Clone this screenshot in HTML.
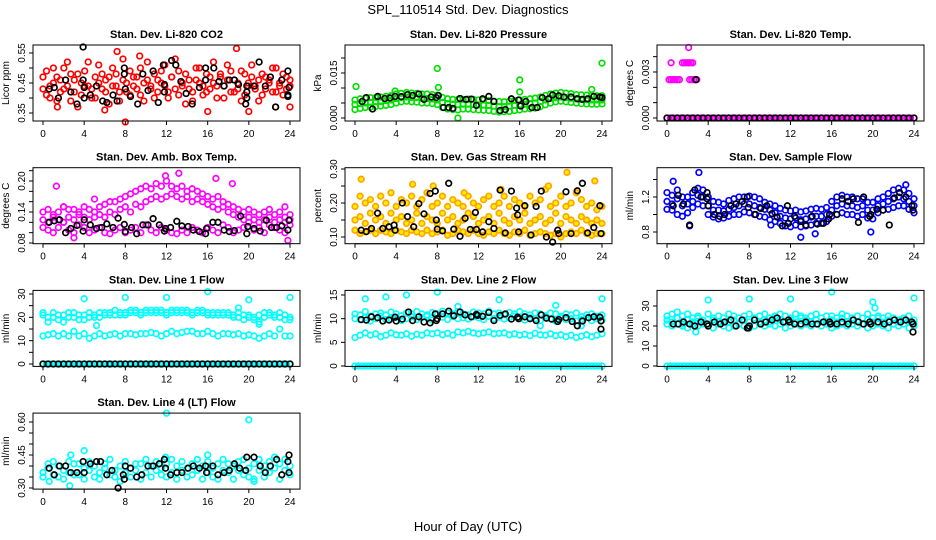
<!DOCTYPE html>
<html><head><meta charset="utf-8"><style>
html,body{margin:0;padding:0;background:#fff}
svg{display:block;font-family:"Liberation Sans",Arial,sans-serif}
</style></head><body>
<svg id="chart" width="936" height="540" viewBox="0 0 936 540">
<text x="468" y="14" text-anchor="middle" font-size="13">SPL_110514  Std. Dev. Diagnostics</text>
<text x="468" y="531" text-anchor="middle" font-size="13">Hour of Day (UTC)</text>
</svg>
<script>
// ---- data (hours / values) ----
const xTicks=[0,4,8,12,16,20,24];
const co2A=[0.47,0.41,0.44,0.50,0.39,0.46,0.43,0.52,0.48,0.42,0.37,0.45,0.49,0.44,0.40,0.47,0.51,0.43,0.46,0.38,0.44,0.48,0.42,0.53,0.45,0.41,0.47,0.43,0.50,0.39,0.46,0.44,0.48,0.42,0.45,0.51,0.40,0.47,0.43,0.49,0.44,0.38,0.46,0.42,0.50,0.45,0.41,0.48,0.43,0.52,0.44,0.47,0.40,0.46,0.49,0.42,0.45,0.39,0.48,0.44,0.51,0.43,0.46,0.41,0.47,0.45,0.42,0.50,0.44,0.48,0.43,0.46];
const co2B=[0.43,0.49,0.40,0.45,0.47,0.42,0.50,0.44,0.39,0.46,0.48,0.41,0.44,0.52,0.43,0.40,0.45,0.48,0.42,0.47,0.50,0.44,0.39,0.46,0.42,0.49,0.44,0.47,0.41,0.45,0.52,0.43,0.40,0.46,0.49,0.44,0.42,0.47,0.53,0.41,0.45,0.48,0.43,0.39,0.46,0.50,0.44,0.42,0.47,0.45,0.40,0.48,0.44,0.51,0.42,0.46,0.43,0.49,0.41,0.45,0.47,0.44,0.39,0.48,0.43,0.46,0.50,0.42,0.45,0.41,0.47,0.44];
const co2OutH=[1.4,6,7.2,8,9.4,18.8,16,20,22.6,24];
const co2OutV=[0.37,0.36,0.555,0.32,0.54,0.565,0.355,0.355,0.37,0.37];
const co2BlkH=[0.6,1.1,1.5,2.2,2.7,3.3,3.9,3.9,4,4,4.6,5.2,5.8,6.2,6.8,7.2,7.9,7.9,8,8.5,9.2,9.7,10.2,10.7,11.2,11.7,11.8,11.8,12.5,12.9,13.4,13.9,14.5,15.2,15.8,15.8,16.6,17.1,17.6,18.1,18.6,19.0,19.7,19.8,19.8,19.8,20.5,21.0,21.6,22.1,22.6,23.2,23.8,23.9,23.8,23.8];
const co2BlkV=[0.43,0.435,0.40,0.46,0.42,0.38,0.57,0.46,0.435,0.40,0.41,0.44,0.39,0.385,0.41,0.39,0.50,0.48,0.43,0.405,0.38,0.48,0.425,0.49,0.385,0.51,0.445,0.42,0.525,0.51,0.455,0.415,0.38,0.435,0.50,0.46,0.50,0.455,0.44,0.46,0.46,0.445,0.38,0.42,0.40,0.44,0.44,0.52,0.44,0.47,0.37,0.46,0.49,0.435,0.41,0.405];

const presMid=[0.0045,0.0048,0.005,0.0052,0.0054,0.0055,0.0058,0.006,0.0065,0.0068,0.007,0.0068,0.0068,0.0066,0.0065,0.0063,0.006,0.0052,0.0048,0.0046,0.0045,0.0046,0.0046,0.0045,0.0044,0.0043,0.0042,0.004,0.0038,0.0038,0.004,0.0042,0.0044,0.0046,0.0048,0.005,0.0055,0.006,0.0065,0.0068,0.007,0.0068,0.0066,0.0064,0.0062,0.0061,0.006,0.006,0.006];
const presLo=[0.0028,0.0032,0.0035,0.0036,0.0038,0.004,0.0042,0.0045,0.005,0.0054,0.0056,0.0054,0.0053,0.005,0.005,0.0048,0.0045,0.0035,0.003,0.0028,0.0027,0.003,0.003,0.0028,0.0027,0.0026,0.0025,0.0022,0.002,0.0021,0.0022,0.0025,0.0027,0.003,0.0031,0.0033,0.0038,0.0044,0.005,0.0054,0.0056,0.0054,0.0052,0.005,0.0048,0.0047,0.0046,0.0046,0.0047];
const presHi=[0.006,0.0064,0.0066,0.0068,0.0068,0.007,0.0072,0.0074,0.008,0.0082,0.0085,0.0083,0.0082,0.008,0.008,0.0078,0.0076,0.0068,0.0064,0.0062,0.0062,0.0062,0.0063,0.0062,0.006,0.006,0.0058,0.0056,0.0055,0.0054,0.0056,0.0058,0.006,0.0062,0.0064,0.0066,0.007,0.0075,0.008,0.0083,0.0085,0.0083,0.0081,0.0078,0.0077,0.0076,0.0075,0.0074,0.0074];
const presOutH=[0.1,8,8.1,16,16,23,24,10,3.9];
const presOutV=[0.0105,0.0165,0.0102,0.0127,0.0087,0.0095,0.0183,0.0,0.009];
const presBlkH=[0.7,1.1,1.7,2.2,2.9,3.4,3.9,4.5,5.1,5.6,6.2,6.7,7.4,7.9,8.1,8.6,9.1,9.5,10.2,10.8,11.3,11.8,12.4,13.0,13.5,14.1,14.6,15.2,15.9,16.1,16.6,17.2,17.7,18.2,18.8,19.2,19.8,20.3,21.0,21.6,22.1,22.6,23.2,23.8,24];
const presBlkV=[0.0055,0.0068,0.0030,0.0072,0.0065,0.0067,0.0072,0.0071,0.0078,0.0075,0.0080,0.0062,0.0070,0.0068,0.0075,0.0035,0.0035,0.0032,0.0065,0.0062,0.0063,0.0042,0.0064,0.0072,0.0055,0.0025,0.0028,0.0064,0.0060,0.0040,0.0055,0.0035,0.0035,0.0068,0.0064,0.0077,0.0074,0.0070,0.0070,0.0064,0.0062,0.0064,0.0072,0.0070,0.0068];

const zeroRow=[0,0,0,0,0,0,0,0,0,0,0,0,0,0,0,0,0,0,0,0,0,0,0,0,0,0,0,0,0,0,0,0,0,0,0,0,0,0,0,0,0,0,0,0,0,0,0,0,0,0,0,0,0,0,0,0,0,0,0,0,0,0,0,0,0,0,0,0,0,0,0,0,0];
const blkZeroRow=[0,0,0,0,0,0,0,0,0,0,0,0,0,0,0,0,0,0,0,0,0,0,0,0,0,0,0,0,0,0,0,0,0,0,0,0,0,0,0,0,0,0,0,0,0,0,0,0,0];
const tempOutH=[0.2,0.4,0.6,0.8,1.0,1.2,0.4,1.5,1.7,1.9,2.1,2.3,2.5,2.2,2.4,2.6,2.9,2.1];
const tempOutV=[0.0025,0.0025,0.0025,0.0025,0.0025,0.0025,0.0036,0.0036,0.0036,0.0036,0.0036,0.0036,0.0036,0.0025,0.0025,0.0025,0.0025,0.0046];
const tempBlkH=[2.8];
const tempBlkV=[0.0025];

const ambLo=[0.11,0.105,0.10,0.11,0.12,0.105,0.10,0.115,0.11,0.10,0.105,0.11,0.10,0.098,0.105,0.11,0.10,0.105,0.11,0.10,0.115,0.105,0.10,0.11,0.105,0.10,0.098,0.105,0.10,0.11,0.105,0.10,0.11,0.105,0.10,0.115,0.11,0.10,0.105,0.11,0.12,0.105,0.11,0.10,0.115,0.11,0.105,0.10,0.115];
const ambMid=[0.125,0.12,0.13,0.125,0.12,0.13,0.125,0.135,0.13,0.125,0.13,0.135,0.13,0.14,0.135,0.145,0.15,0.14,0.155,0.15,0.16,0.165,0.17,0.165,0.17,0.175,0.17,0.165,0.17,0.16,0.165,0.16,0.155,0.15,0.145,0.15,0.14,0.135,0.13,0.125,0.13,0.125,0.12,0.125,0.13,0.12,0.125,0.12,0.125];
const ambHi=[0.14,0.145,0.135,0.14,0.15,0.145,0.145,0.14,0.15,0.145,0.14,0.15,0.155,0.16,0.16,0.165,0.17,0.175,0.18,0.185,0.19,0.185,0.195,0.19,0.2,0.19,0.185,0.19,0.18,0.185,0.18,0.175,0.17,0.165,0.17,0.16,0.155,0.15,0.145,0.14,0.145,0.14,0.135,0.14,0.145,0.135,0.14,0.13,0.135];
const ambOutH=[1.3,2.0,5.0,11.9,13.2,16.8,18.4,23.5,23.8,3.0];
const ambOutV=[0.19,0.15,0.165,0.21,0.215,0.205,0.195,0.15,0.085,0.09];
const ambBlkH=[0.6,1.1,1.6,2.2,2.7,3.3,3.9,4.0,4.6,5.2,5.7,6.2,6.8,7.3,7.9,8.0,8.6,9.1,9.7,10.2,10.7,11.3,11.8,11.9,12.4,13.0,13.5,14.1,14.6,15.2,15.8,15.9,16.5,17.0,17.6,18.1,18.6,19.2,19.8,19.9,20.5,21.1,21.7,22.2,22.7,23.2,23.8,23.9];
const ambBlkV=[0.12,0.123,0.125,0.10,0.108,0.114,0.103,0.125,0.115,0.108,0.11,0.117,0.11,0.128,0.116,0.102,0.11,0.098,0.115,0.115,0.127,0.115,0.103,0.108,0.11,0.122,0.113,0.112,0.105,0.102,0.098,0.108,0.12,0.12,0.105,0.102,0.104,0.132,0.098,0.112,0.108,0.103,0.124,0.11,0.11,0.113,0.105,0.124];

const rhLo=[0.12,0.11,0.115,0.12,0.11,0.12,0.115,0.11,0.12,0.115,0.11,0.12,0.115,0.11,0.12,0.11,0.115,0.12,0.105,0.11,0.12,0.115,0.11,0.12,0.11,0.105,0.115,0.11,0.12,0.11,0.105,0.115,0.11,0.12,0.105,0.11,0.115,0.11,0.105,0.11,0.1,0.11,0.115,0.11,0.12,0.11,0.105,0.11,0.11];
const rhMid=[0.15,0.16,0.14,0.17,0.15,0.16,0.14,0.17,0.15,0.16,0.14,0.15,0.17,0.14,0.16,0.15,0.14,0.17,0.15,0.16,0.14,0.15,0.17,0.16,0.14,0.15,0.16,0.14,0.17,0.15,0.14,0.16,0.15,0.17,0.14,0.15,0.16,0.14,0.15,0.17,0.14,0.16,0.15,0.14,0.16,0.15,0.14,0.15,0.14];
const rhHi=[0.19,0.22,0.2,0.21,0.19,0.22,0.2,0.23,0.19,0.21,0.2,0.22,0.19,0.21,0.23,0.19,0.2,0.22,0.19,0.21,0.2,0.19,0.22,0.2,0.19,0.21,0.22,0.19,0.2,0.22,0.19,0.21,0.2,0.19,0.22,0.2,0.21,0.24,0.19,0.2,0.22,0.19,0.2,0.23,0.21,0.19,0.2,0.18,0.19];
const rhOutH=[0.6,5.6,7.6,10.6,14.2,18.8,20.6,23.3];
const rhOutV=[0.27,0.255,0.25,0.23,0.24,0.25,0.29,0.265];
const rhBlkH=[0.6,1.1,1.6,2.2,2.7,3.3,3.8,3.9,4.6,5.1,5.7,6.2,6.7,7.3,7.8,7.9,8.0,8.5,9.1,9.6,10.2,10.7,11.2,11.7,11.8,12.4,13.0,13.5,14.1,14.6,15.2,15.7,15.8,15.9,16.5,17.1,17.6,18.1,18.6,19.2,19.7,19.8,20.5,21.0,21.6,22.1,22.6,23.2,23.8,23.9];
const rhBlkV=[0.12,0.116,0.125,0.17,0.125,0.13,0.135,0.12,0.20,0.16,0.13,0.198,0.168,0.228,0.235,0.15,0.123,0.118,0.258,0.123,0.102,0.155,0.122,0.172,0.122,0.115,0.145,0.125,0.238,0.112,0.235,0.185,0.165,0.115,0.192,0.106,0.19,0.235,0.1,0.085,0.12,0.11,0.233,0.11,0.236,0.258,0.112,0.128,0.192,0.11];

const flowMid=[1.15,1.12,1.18,1.1,1.12,1.15,1.22,1.2,1.1,1.05,1.05,1.04,1.06,1.08,1.1,1.12,1.12,1.1,1.08,1.06,1.05,1.02,0.98,0.96,0.95,0.96,0.94,0.95,0.97,0.98,0.98,1.0,1.05,1.1,1.12,1.1,1.1,1.08,1.1,1.05,1.05,1.1,1.12,1.15,1.18,1.2,1.18,1.15,1.1];
const flowLo=[1.06,1.05,1.0,0.98,1.02,1.08,1.12,1.1,1.0,0.97,0.95,0.96,0.98,1.0,1.0,1.03,1.02,1.0,0.98,0.97,0.94,0.92,0.9,0.87,0.86,0.88,0.86,0.87,0.88,0.9,0.9,0.92,0.98,1.0,1.02,1.0,1.0,0.98,1.0,0.96,0.95,1.02,1.05,1.06,1.08,1.1,1.1,1.06,1.02];
const flowHi=[1.25,1.22,1.28,1.2,1.2,1.25,1.3,1.28,1.2,1.15,1.14,1.12,1.16,1.18,1.2,1.2,1.21,1.2,1.18,1.14,1.12,1.1,1.07,1.05,1.04,1.05,1.03,1.04,1.06,1.07,1.06,1.08,1.15,1.2,1.22,1.2,1.2,1.18,1.18,1.14,1.14,1.18,1.2,1.24,1.28,1.3,1.28,1.24,1.18];
const flowOutH=[0.6,3.1,2.2,13.0,14.4,19.8,10.1,23.2];
const flowOutV=[1.38,1.48,0.87,0.74,0.78,0.8,0.88,1.34];
const flowBlkH=[0.6,1.1,1.6,2.2,2.7,3.3,3.9,3.9,4.0,4.6,5.1,5.6,6.2,6.7,7.3,7.8,7.9,8.6,9.1,9.7,10.2,10.7,11.2,11.7,11.8,12.4,13.0,13.5,14.1,14.6,15.2,15.7,15.8,16.5,17.0,17.6,18.1,18.6,19.1,19.7,19.8,20.4,21.0,21.6,22.1,22.6,23.2,23.8,23.9];
const flowBlkV=[1.1,1.22,1.12,0.88,1.28,1.2,1.25,1.18,1.1,1.0,0.98,1.0,1.1,1.12,1.15,1.2,1.08,1.0,1.07,1.1,1.01,0.97,0.87,1.1,0.9,0.98,0.92,0.88,0.98,0.89,0.9,0.95,1.0,1.0,1.18,1.15,1.18,0.91,1.2,0.98,1.0,1.06,1.05,0.88,1.19,1.25,1.2,1.1,1.05];

const l1A=[21,20,22,19,21,20,22,19,21,20,21,22,21,22,23,21,22,23,22,22,23,22,22,23,22,23,22,23,22,22,23,22,21,22,22,21,22,21,20,21,20,19,21,20,22,21,20,21,20];
const l1B=[22,18,20,21,18,22,20,21,19,22,20,20,22,21,21,22,21,22,23,21,22,23,23,22,21,22,23,22,23,21,22,23,22,21,21,22,21,20,22,19,21,20,18,22,21,20,22,19,19];
const l1C=[12,12.5,13,12,13,12,14,12,13,11,12,13,12,12.5,13,12,13,13,12.5,13,13,13.5,13,12,13,14,13,13.5,14,14,13,13,14,13,12,13,13,12.5,13,12,12.5,12,11,12,13,12,15,12,12];
const l1OutH=[4,8,12,16,20,24,5.2,19,21];
const l1OutV=[28,28.5,28.5,31,27.5,28.5,16.5,24,17];

const l2A=[10,9.8,10.2,9.5,10,10.5,9.8,10,10.3,9.6,10,10.4,9.8,10.2,10.5,9.7,10,10.3,9.8,10.5,10,10.2,9.9,10.4,10.2,9.8,10.5,10,10.3,9.9,10.2,10.5,10,9.7,10.2,10,9.6,10.3,10,9.5,10.2,9.8,10,9.5,9.8,10.2,9.6,10,9.7];
const l2B=[11,10.8,11.5,10.5,11,11.2,10.8,11.4,11,10.6,11.2,11,11.5,11,10.8,11.3,11,11.6,11.2,11,11.5,11,10.8,11.4,11.2,11,11.6,11,11.2,10.8,11.3,11,11.5,11,10.8,11.2,11,10.6,11.2,11,10.5,11,10.8,11.2,10.4,10.8,11,10.5,10.8];
const l2C=[6,6.5,7,6.5,6.8,6.2,6.5,7,6.6,6.5,6.8,6.3,6.7,6.5,7,6.8,7,6.6,6.9,6.5,7.2,7,7.3,7,6.8,7,7.2,6.8,6.9,7,6.6,6.8,6.5,6.7,6.4,6.9,6.6,6.5,6.8,6.4,6.6,6.2,6.5,6,6.3,6.6,6.2,6.5,6.8];
const l2OutH=[1,3,5,8,10,14,18,19.5,22,24];
const l2OutV=[14.2,14.6,15,15.6,12.6,14,8.5,12.8,8.5,14.2];
const lineBlkH=[0.6,1.1,1.6,2.2,2.7,3.3,3.9,4.0,4.6,5.2,5.6,6.2,6.7,7.3,7.8,7.9,8.0,8.5,9.1,9.6,10.2,10.7,11.3,11.8,11.9,12.4,13.0,13.5,14.1,14.6,15.2,15.8,15.9,16.5,17.0,17.6,18.1,18.6,19.1,19.7,19.8,20.5,21.1,21.6,22.1,22.7,23.2,23.8,23.9,23.9];
const l2BlkV=[9.8,9.7,10.4,10.2,9.5,9.7,10.3,9.5,9.9,11.4,9.6,10.4,9.3,9.1,11,9.6,10,11,11.6,10.6,11.4,10.8,10.4,10.9,10.7,10.5,11.3,9.6,10.7,11,9.9,10.3,10,10.4,10,9.6,10.8,10.1,9.9,9.4,9.8,10.2,9.4,8.5,9.5,10.2,10.4,10.3,9.5,7.8];

const l3A=[23,22,24,21,23,22,24,22,21,23,22,24,22,23,21,23,22,24,22,23,22,24,23,22,23,22,24,23,22,23,24,22,23,22,24,22,23,22,21,23,22,24,22,23,21,22,23,22,21];
const l3B=[25,26,24,25,26,24,25,23,26,24,25,24,26,25,24,25,26,24,25,26,24,25,26,25,24,26,25,24,25,26,24,25,25,24,26,25,24,25,24,26,24,25,24,25,24,23,24,25,23];
const l3C=[21,20,21,20,19,21,20,21,20,19,21,20,19,20,21,20,19,20,21,20,21,20,21,19,20,21,20,21,20,21,20,21,19,20,21,20,21,20,21,19,20,21,20,19,21,20,21,19,20];
const l3OutH=[1,4,8,12,16,20,24,2.8,20.2];
const l3OutV=[27,33,33.5,33.5,37,32,34,17,29];
const l3BlkV=[21,21,22,21,20,22,21,20,22,21,22,23,20,23,19,19,20,23,21,22,23,24,22,23,22,21,21,22,21,21,22,22,21,21,22,21,23,22,21,22,21,22,21,22,23,22,23,22,21,17];

const l4A=[0.37,0.39,0.36,0.40,0.38,0.37,0.41,0.36,0.39,0.38,0.40,0.37,0.39,0.36,0.38,0.40,0.37,0.39,0.38,0.41,0.37,0.40,0.38,0.39,0.41,0.37,0.40,0.38,0.39,0.41,0.38,0.40,0.37,0.39,0.41,0.38,0.37,0.40,0.38,0.36,0.39,0.41,0.38,0.40,0.37,0.39,0.41,0.38,0.40];
const l4B=[0.35,0.41,0.42,0.35,0.34,0.42,0.36,0.41,0.34,0.42,0.35,0.34,0.41,0.43,0.35,0.33,0.42,0.35,0.41,0.34,0.43,0.35,0.42,0.36,0.35,0.43,0.34,0.42,0.35,0.36,0.43,0.34,0.42,0.35,0.34,0.43,0.41,0.34,0.42,0.43,0.35,0.34,0.43,0.35,0.42,0.44,0.34,0.43,0.36];
const l4OutH=[0.6,2.6,2.7,4,12,16,20,11.9,20.5];
const l4OutV=[0.33,0.31,0.45,0.47,0.64,0.45,0.61,0.44,0.33];
const l4BlkV=[0.39,0.36,0.40,0.40,0.37,0.37,0.42,0.37,0.41,0.42,0.42,0.36,0.38,0.30,0.36,0.34,0.40,0.39,0.35,0.36,0.40,0.40,0.41,0.43,0.39,0.36,0.37,0.37,0.39,0.40,0.39,0.40,0.37,0.40,0.36,0.37,0.38,0.41,0.39,0.38,0.44,0.44,0.40,0.37,0.40,0.43,0.36,0.42,0.45,0.37];

const NS='http://www.w3.org/2000/svg';
const svg=document.getElementById('chart');
function mk(tag,attrs,parent){const e=document.createElementNS(NS,tag);for(const k in attrs)e.setAttribute(k,attrs[k]);(parent||svg).appendChild(e);return e;}
function idxHours(arr){const n=arr.length;return arr.map((_,i)=>i*24/(n-1));}

const RED='#ff0000',GRN='#00e000',MAG='#ff00ff',ORA='#ffa500',BLU='#0000ff',CYA='#00ffff',BLK='#000000';
const panels=[
 {id:'co2',title:'Stan. Dev. Li-820 CO2',ylab:'Licor ppm',c:0,r:0,v1:0.55,p1:53,v2:0.35,p2:113,ticks:[0.35,0.40,0.45,0.50,0.55],labels:[0.35,0.45,0.55],dec:2,
  series:[[null,co2A,RED],[null,co2B,RED],[co2OutH,co2OutV,RED],[co2BlkH,co2BlkV,BLK]]},
 {id:'pressure',title:'Stan. Dev. Li-820 Pressure',ylab:'kPa',c:1,r:0,v1:0.015,p1:73,v2:0,p2:118,ticks:[0,0.005,0.01,0.015,0.02],labels:[0,0.015],dec:3,
  series:[[null,presLo,GRN],[null,presMid,GRN],[null,presHi,GRN],[presOutH,presOutV,GRN],[presBlkH,presBlkV,BLK]]},
 {id:'temp',title:'Stan. Dev. Li-820 Temp.',ylab:'degrees C',c:2,r:0,v1:0.003,p1:72,v2:0,p2:118,ticks:[0,0.001,0.002,0.003,0.004],labels:[0,0.003],dec:3,
  series:[[null,zeroRow,MAG],[tempOutH,tempOutV,MAG],[null,blkZeroRow,BLK],[tempBlkH,tempBlkV,BLK]]},
 {id:'amb-temp',title:'Stan. Dev. Amb. Box Temp.',ylab:'degrees C',c:0,r:1,v1:0.20,p1:181,v2:0.08,p2:243,ticks:[0.08,0.10,0.12,0.14,0.16,0.18,0.20,0.22],labels:[0.08,0.14,0.20],dec:2,
  series:[[null,ambLo,MAG],[null,ambMid,MAG],[null,ambHi,MAG],[ambOutH,ambOutV,MAG],[ambBlkH,ambBlkV,BLK]]},
 {id:'rh',title:'Stan. Dev. Gas Stream RH',ylab:'percent',c:1,r:1,v1:0.30,p1:169,v2:0.10,p2:237,ticks:[0.10,0.15,0.20,0.25,0.30],labels:[0.10,0.20,0.30],dec:2,
  series:[[null,rhLo,ORA,'#ffee00'],[null,rhMid,ORA,'#ffee00'],[null,rhHi,ORA,'#ffee00'],[rhOutH,rhOutV,ORA,'#ffee00'],[rhBlkH,rhBlkV,BLK]]},
 {id:'sample-flow',title:'Stan. Dev. Sample Flow',ylab:'ml/min',c:2,r:1,v1:1.2,p1:197,v2:0.8,p2:232,ticks:[0.8,1.0,1.2,1.4],labels:[0.8,1.2],dec:1,
  series:[[null,flowLo,BLU],[null,flowMid,BLU],[null,flowHi,BLU],[flowOutH,flowOutV,BLU],[flowBlkH,flowBlkV,BLK]]},
 {id:'line1',title:'Stan. Dev. Line 1 Flow',ylab:'ml/min',c:0,r:2,v1:30,p1:294,v2:0,p2:364,ticks:[0,5,10,15,20,25,30],labels:[0,10,20,30],dec:0,
  series:[[null,l1A,CYA],[null,l1B,CYA],[null,l1C,CYA],[l1OutH,l1OutV,CYA],[null,zeroRow,CYA],[null,blkZeroRow,BLK]]},
 {id:'line2',title:'Stan. Dev. Line 2 Flow',ylab:'ml/min',c:1,r:2,v1:15,p1:295,v2:0,p2:366,ticks:[0,5,10,15],labels:[0,5,10,15],dec:0,
  series:[[null,l2C,CYA],[null,l2A,CYA],[null,l2B,CYA],[l2OutH,l2OutV,CYA],[null,zeroRow,CYA],[lineBlkH,l2BlkV,BLK]]},
 {id:'line3',title:'Stan. Dev. Line 3 Flow',ylab:'ml/min',c:2,r:2,v1:30,p1:306,v2:0,p2:366,ticks:[0,10,20,30],labels:[0,10,20,30],dec:0,
  series:[[null,l3C,CYA],[null,l3A,CYA],[null,l3B,CYA],[l3OutH,l3OutV,CYA],[null,zeroRow,CYA],[lineBlkH,l3BlkV,BLK]]},
 {id:'line4',title:'Stan. Dev. Line 4 (LT) Flow',ylab:'ml/min',c:0,r:3,v1:0.60,p1:422,v2:0.30,p2:488,ticks:[0.30,0.35,0.40,0.45,0.50,0.55,0.60],labels:[0.30,0.45,0.60],dec:2,
  series:[[null,l4A,CYA],[null,l4B,CYA],[l4OutH,l4OutV,CYA],[lineBlkH,l4BlkV,BLK]]}
];

panels.forEach(p=>{
  const x0=43+312*p.c, x24=290+312*p.c;
  const top=45+122.7*p.r, bot=top+76;
  const L=x0-10, R=x24+10;
  const sx=h=>x0+(x24-x0)*h/24;
  const sy=v=>p.p2+(p.p1-p.p2)*(v-p.v2)/(p.v1-p.v2);
  const g=mk('g',{});
  
  
  const t=mk('text',{x:(L+R)/2,y:top-7,'text-anchor':'middle','font-size':11,'font-weight':'bold'},g);
  t.textContent=p.title;
  
  
  const yl=mk('text',{x:0,y:0,'text-anchor':'middle','font-size':10,transform:`translate(${L-24},${(top+bot)/2}) rotate(-90)`},g);
  yl.textContent=p.ylab;
  
  
  const clip=mk('g',{},g);
  p.series.forEach((s,si)=>{
    const hrs=s[0]||idxHours(s[1]);
    const sg=mk('g',{fill:s[3]||'none',stroke:s[2],'stroke-width':1.7},clip);
    
    
    s[1].forEach((v,i)=>{
      const c=mk('circle',{cx:sx(hrs[i]).toFixed(1),cy:sy(v).toFixed(1),r:2.8},sg);
      
      
    });
  });
  const box=mk('rect',{x:L,y:top,width:R-L,height:bot-top,fill:'none',stroke:'#000','stroke-width':1},g);
  
  
  const xa=mk('g',{},g);
  
  
  mk('line',{x1:sx(0),x2:sx(24),y1:bot,y2:bot,stroke:'#000'},xa);
  xTicks.forEach(h=>{
    mk('line',{x1:sx(h),x2:sx(h),y1:bot,y2:bot+4,stroke:'#000'},xa);
    const tl=mk('text',{x:sx(h),y:bot+16,'text-anchor':'middle','font-size':10},xa);
    tl.textContent=h;
  });
  const ya=mk('g',{},g);
  
  
  p.ticks.forEach(v=>{
    const y=sy(v); if(y<top-1||y>bot+1)return;
    mk('line',{x1:L-4,x2:L,y1:y,y2:y,stroke:'#000'},ya);
  });
  p.labels.forEach(v=>{
    const y=sy(v);
    const tl=mk('text',{x:0,y:0,'text-anchor':'middle','font-size':10,transform:`translate(${L-8},${y}) rotate(-90)`},ya);
    tl.textContent=v.toFixed(p.dec);
  });
});
</script>
</body></html>
